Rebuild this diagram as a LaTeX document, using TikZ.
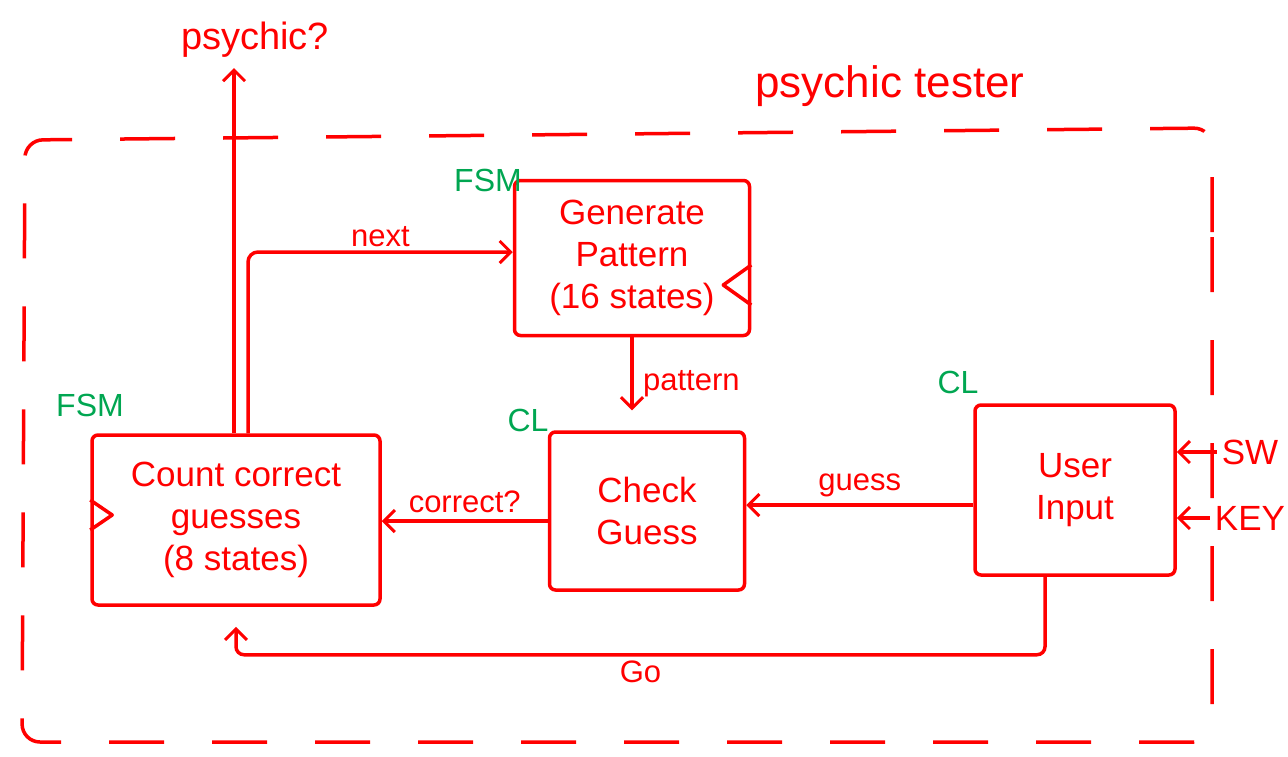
\documentclass[tikz,border=0pt]{standalone}
\usepackage{fontspec}
\setmainfont{Liberation Sans}
\usepackage{xcolor}
\definecolor{ink}{HTML}{FF0000}
\definecolor{tag}{HTML}{00A651}
\usetikzlibrary{positioning,calc,arrows.meta}

\begin{document}
\begin{tikzpicture}[x=1pt,y=-1pt,line width=3.5pt,draw=ink,text=ink,
  font=\fontsize{35}{42}\selectfont,
  block/.style={draw,rounded corners=6pt,align=center,inner sep=2pt},
  lbl/.style={font=\fontsize{31}{33}\selectfont},
  kind/.style={text=tag,font=\fontsize{32}{34}\selectfont},
  arr/.style={-{Straight Barb[length=11pt,width=22pt,line width=3pt]}}]
  \useasboundingbox (0,0) rectangle (1288,756);

  % outer dashed frame
  \draw[dash pattern=on 55pt off 48pt,rounded corners=18pt] (1212,250) -- (1212,128) -- (25,140) -- (22,742) -- (1212,742) -- cycle;
  \node[font=\fontsize{44}{48}\selectfont] (title) at (890,86) {psychic tester};

  % blocks
  \node[block,minimum width=235pt,minimum height=155pt] (gen) at (632,258) {Generate\\Pattern\\(16 states)};
  \node[block,minimum width=195pt,minimum height=158pt] (chk) at (647,511) {Check\\Guess};
  \node[block,minimum width=288pt,minimum height=170pt] (cnt) at (236,520) {Count correct\\guesses\\(8 states)};
  \node[block,minimum width=200pt,minimum height=170pt] (usr) at (1075,490) {User\\Input};

  % block kinds
  \node[kind] at (488,180) {FSM};
  \node[kind] at (90,405) {FSM};
  \node[kind] at (528,420) {CL};
  \node[kind] at (958,382) {CL};

  % clock marks
  \draw[line join=round] ([yshift=-7]gen.east) -- ++(-28,20) -- ++(28,20);
  \draw[line join=round] ([yshift=20]cnt.west) -- ++(22,15) -- ++(-22,15);

  % outputs
  \node[font=\fontsize{38}{40}\selectfont] (psy) at (255,40) {psychic?};
  \coordinate (psyin) at (234,68);
  \draw[arr] ([xshift=-2]cnt.north) -- (psyin);
  \draw[arr,rounded corners=10pt] ([xshift=12]cnt.north) |- ([yshift=6]gen.west) node[lbl,pos=0.75,above] {next};

  % data paths
  \draw[arr,shorten >=20pt] (gen.south) -- (gen.south |- chk.north) node[lbl,midway,right=6pt] {pattern};
  \draw[arr] ([yshift=-10]chk.west) -- ([yshift=-10]chk.west -| cnt.east) node[lbl,midway,above=3pt] {correct?};
  \draw[arr] ([yshift=-15]usr.west) -- ([yshift=-15]usr.west -| chk.east) node[lbl,midway,above=3pt] {guess};
  \draw[arr,rounded corners=8pt,shorten >=20pt] ([xshift=-30]usr.south) |- ([yshift=-48]cnt.south) node[lbl,pos=0.75,below=1pt] {Go} -- (cnt.south);

  % board inputs
  \node (sw) at (1250,452) {SW};
  \node (key) at (1250,518) {KEY};
  \draw[arr] (sw.west) -- (sw.west -| usr.east);
  \draw[arr] (key.west) -- (key.west -| usr.east);
\end{tikzpicture}
\end{document}
